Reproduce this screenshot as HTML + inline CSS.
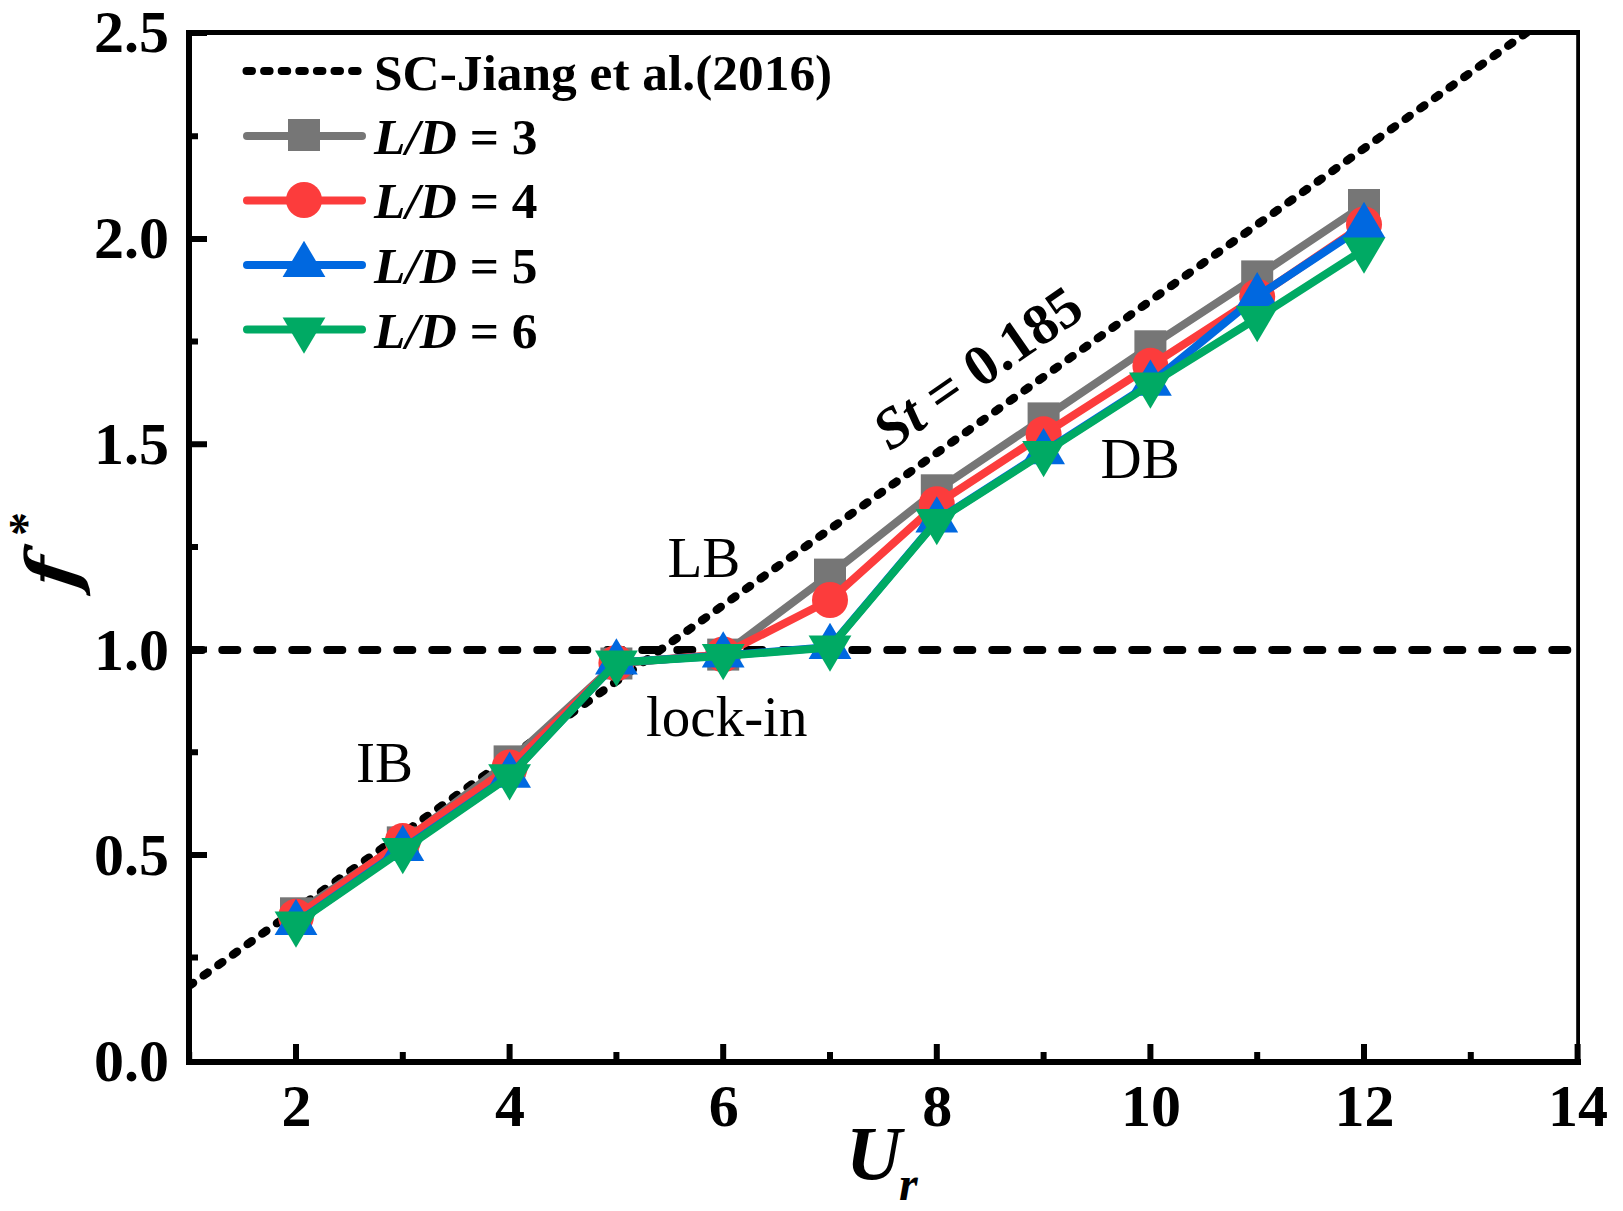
<!DOCTYPE html>
<html lang="en"><head><meta charset="utf-8"><title>f* versus Ur</title>
<style>
html,body{margin:0;padding:0;background:#fff;}
body{width:1623px;height:1211px;overflow:hidden;}
svg{display:block;}
text{font-family:"Liberation Serif",serif;fill:#000;}
.b{font-weight:bold;}
.i{font-style:italic;}
.tk{font-weight:bold;font-size:60px;}
.lg{font-weight:bold;font-size:51.4px;}
.an{font-size:57px;}
.ti{font-weight:bold;font-style:italic;font-size:77px;}
</style></head><body>
<svg width="1623" height="1211" viewBox="0 0 1623 1211">
<rect x="0" y="0" width="1623" height="1211" fill="#fff"/>
<defs><clipPath id="pc"><rect x="189" y="33" width="1389" height="1029"/></clipPath></defs>

<g clip-path="url(#pc)" fill="none" stroke="#000" stroke-linecap="round">
<line x1="187.2" y1="650" x2="1578" y2="650" stroke-width="7.8" stroke-dasharray="15.2 19.8"/>
<line x1="189.0" y1="985.9" x2="1560.0" y2="8.8" stroke-width="8.4" stroke-dasharray="5 13"/>
</g>
<polyline points="296.0,913.3 402.8,842.4 509.6,761.4 616.4,663.5 723.2,654.6 830.0,574.6 936.8,490.3 1043.6,418.4 1150.4,346.3 1257.2,276.4 1364.0,205.0" fill="none" stroke="#767676" stroke-width="8" stroke-linejoin="round" stroke-linecap="round"/>
<rect x="280.0" y="897.3" width="32" height="32" fill="#767676"/>
<rect x="386.8" y="826.4" width="32" height="32" fill="#767676"/>
<rect x="493.6" y="745.4" width="32" height="32" fill="#767676"/>
<rect x="600.4" y="647.5" width="32" height="32" fill="#767676"/>
<rect x="707.2" y="638.6" width="32" height="32" fill="#767676"/>
<rect x="814.0" y="558.6" width="32" height="32" fill="#767676"/>
<rect x="920.8" y="474.3" width="32" height="32" fill="#767676"/>
<rect x="1027.6" y="402.4" width="32" height="32" fill="#767676"/>
<rect x="1134.4" y="330.3" width="32" height="32" fill="#767676"/>
<rect x="1241.2" y="260.4" width="32" height="32" fill="#767676"/>
<rect x="1348.0" y="189.0" width="32" height="32" fill="#767676"/>
<polyline points="296.0,916.8 402.8,841.1 509.6,767.5 616.4,663.0 723.2,654.4 830.0,600.0 936.8,504.2 1043.6,434.3 1150.4,365.8 1257.2,296.8 1364.0,224.5" fill="none" stroke="#fc3c3c" stroke-width="8" stroke-linejoin="round" stroke-linecap="round"/>
<circle cx="296.0" cy="916.8" r="18" fill="#fc3c3c"/>
<circle cx="402.8" cy="841.1" r="18" fill="#fc3c3c"/>
<circle cx="509.6" cy="767.5" r="18" fill="#fc3c3c"/>
<circle cx="616.4" cy="663.0" r="18" fill="#fc3c3c"/>
<circle cx="723.2" cy="654.4" r="18" fill="#fc3c3c"/>
<circle cx="830.0" cy="600.0" r="18" fill="#fc3c3c"/>
<circle cx="936.8" cy="504.2" r="18" fill="#fc3c3c"/>
<circle cx="1043.6" cy="434.3" r="18" fill="#fc3c3c"/>
<circle cx="1150.4" cy="365.8" r="18" fill="#fc3c3c"/>
<circle cx="1257.2" cy="296.8" r="18" fill="#fc3c3c"/>
<circle cx="1364.0" cy="224.5" r="18" fill="#fc3c3c"/>
<polyline points="296.0,923.0 402.8,849.0 509.6,775.8 616.4,662.5 723.2,655.5 830.0,647.0 936.8,520.5 1043.6,452.2 1150.4,383.7 1257.2,296.4 1364.0,226.0" fill="none" stroke="#0068e0" stroke-width="8" stroke-linejoin="round" stroke-linecap="round"/>
<polygon points="296.0,898.7 317.4,935.0 274.6,935.0" fill="#0068e0"/>
<polygon points="402.8,824.7 424.2,861.0 381.4,861.0" fill="#0068e0"/>
<polygon points="509.6,751.5 531.0,787.8 488.2,787.8" fill="#0068e0"/>
<polygon points="616.4,638.2 637.8,674.5 595.0,674.5" fill="#0068e0"/>
<polygon points="723.2,631.2 744.6,667.5 701.8,667.5" fill="#0068e0"/>
<polygon points="830.0,622.7 851.4,659.0 808.6,659.0" fill="#0068e0"/>
<polygon points="936.8,496.2 958.2,532.5 915.4,532.5" fill="#0068e0"/>
<polygon points="1043.6,427.9 1065.0,464.2 1022.2,464.2" fill="#0068e0"/>
<polygon points="1150.4,359.4 1171.8,395.7 1129.0,395.7" fill="#0068e0"/>
<polygon points="1257.2,272.1 1278.6,308.4 1235.8,308.4" fill="#0068e0"/>
<polygon points="1364.0,201.7 1385.4,238.0 1342.6,238.0" fill="#0068e0"/>
<polyline points="296.0,923.5 402.8,850.0 509.6,776.3 616.4,662.5 723.2,656.0 830.0,647.5 936.8,521.0 1043.6,453.0 1150.4,384.5 1257.2,318.0 1364.0,249.5" fill="none" stroke="#00aa64" stroke-width="8" stroke-linejoin="round" stroke-linecap="round"/>
<polygon points="274.6,911.5 317.4,911.5 296.0,947.8" fill="#00aa64"/>
<polygon points="381.4,838.0 424.2,838.0 402.8,874.3" fill="#00aa64"/>
<polygon points="488.2,764.3 531.0,764.3 509.6,800.6" fill="#00aa64"/>
<polygon points="595.0,650.5 637.8,650.5 616.4,686.8" fill="#00aa64"/>
<polygon points="701.8,644.0 744.6,644.0 723.2,680.3" fill="#00aa64"/>
<polygon points="808.6,635.5 851.4,635.5 830.0,671.8" fill="#00aa64"/>
<polygon points="915.4,509.0 958.2,509.0 936.8,545.3" fill="#00aa64"/>
<polygon points="1022.2,441.0 1065.0,441.0 1043.6,477.3" fill="#00aa64"/>
<polygon points="1129.0,372.5 1171.8,372.5 1150.4,408.8" fill="#00aa64"/>
<polygon points="1235.8,306.0 1278.6,306.0 1257.2,342.3" fill="#00aa64"/>
<polygon points="1342.6,237.5 1385.4,237.5 1364.0,273.8" fill="#00aa64"/>
<g stroke="#000" fill="none">
<path d="M189 1065V30" stroke-width="6"/>
<path d="M186 1062H1581" stroke-width="6"/>
<path d="M186 32.5H1580" stroke-width="5"/>
<path d="M1578.1 30V1062" stroke-width="3.8"/>
<path d="M189 855.0h18M189 649.6h18M189 444.3h18M189 239.0h18M189 33.0h18M189 957.6h9M189 752.3h9M189 547.0h9M189 341.6h9M189 136.3h9M296.0 1062v-18M509.6 1062v-18M723.2 1062v-18M936.8 1062v-18M1150.4 1062v-18M1364.0 1062v-18M1577.6 1062v-18M189.2 1062v-10M402.8 1062v-10M616.4 1062v-10M830.0 1062v-10M1043.6 1062v-10M1257.2 1062v-10M1470.8 1062v-10" stroke-width="6"/>
</g>
<text class="tk" x="169" y="1081.3" text-anchor="end">0.0</text>
<text class="tk" x="169" y="875.4" text-anchor="end">0.5</text>
<text class="tk" x="169" y="669.5" text-anchor="end">1.0</text>
<text class="tk" x="169" y="463.6" text-anchor="end">1.5</text>
<text class="tk" x="169" y="257.7" text-anchor="end">2.0</text>
<text class="tk" x="169" y="51.8" text-anchor="end">2.5</text>
<text class="tk" x="296.5" y="1126" text-anchor="middle">2</text>
<text class="tk" x="510.1" y="1126" text-anchor="middle">4</text>
<text class="tk" x="723.7" y="1126" text-anchor="middle">6</text>
<text class="tk" x="937.3" y="1126" text-anchor="middle">8</text>
<text class="tk" x="1150.9" y="1126" text-anchor="middle">10</text>
<text class="tk" x="1364.5" y="1126" text-anchor="middle">12</text>
<text class="tk" x="1578.1" y="1126" text-anchor="middle">14</text>
<text transform="translate(77.2 590.4) rotate(-90) skewX(-7.2)" style="font-family:'DejaVu Serif','Liberation Serif',serif" font-weight="bold" font-style="italic" font-size="70.6">f</text>
<text transform="translate(42 536) rotate(-90)" font-size="48" font-weight="bold">*</text>
<text class="ti" x="846" y="1179">U<tspan font-size="48" dy="20.5" dx="-2.5">r</tspan></text>
<line x1="246.5" y1="71" x2="360" y2="71" stroke="#000" stroke-width="8" stroke-linecap="round" stroke-dasharray="5.5 12.1"/>
<line x1="247" y1="136" x2="362" y2="136" stroke="#767676" stroke-width="8" stroke-linecap="round"/>
<line x1="247" y1="200.5" x2="362" y2="200.5" stroke="#fc3c3c" stroke-width="8" stroke-linecap="round"/>
<line x1="247" y1="265" x2="362" y2="265" stroke="#0068e0" stroke-width="8" stroke-linecap="round"/>
<line x1="247" y1="329.5" x2="362" y2="329.5" stroke="#00aa64" stroke-width="8" stroke-linecap="round"/>
<rect x="288.0" y="119.0" width="32" height="32" fill="#767676"/>
<circle cx="304.0" cy="200.0" r="18" fill="#fc3c3c"/>
<polygon points="304.0,240.7 325.4,277.0 282.6,277.0" fill="#0068e0"/>
<polygon points="282.6,317.5 325.4,317.5 304.0,353.8" fill="#00aa64"/>
<text class="lg" x="374" y="89.5">SC-Jiang et al.(2016)</text>
<text class="lg" x="374" y="153.5"><tspan class="i">L/D</tspan> = 3</text>
<text class="lg" x="374" y="218"><tspan class="i">L/D</tspan> = 4</text>
<text class="lg" x="374" y="282.7"><tspan class="i">L/D</tspan> = 5</text>
<text class="lg" x="374" y="347.5"><tspan class="i">L/D</tspan> = 6</text>
<text class="an" x="356" y="782">IB</text>
<text class="an" x="667.5" y="576.5">LB</text>
<text class="an" x="1100.5" y="478">DB</text>
<text class="an" x="646" y="735.5">lock-in</text>
<text class="tk" style="font-size:57.7px" transform="translate(890 452) rotate(-34.8)"><tspan class="i">St</tspan> = 0.185</text>
</svg>
</body></html>
